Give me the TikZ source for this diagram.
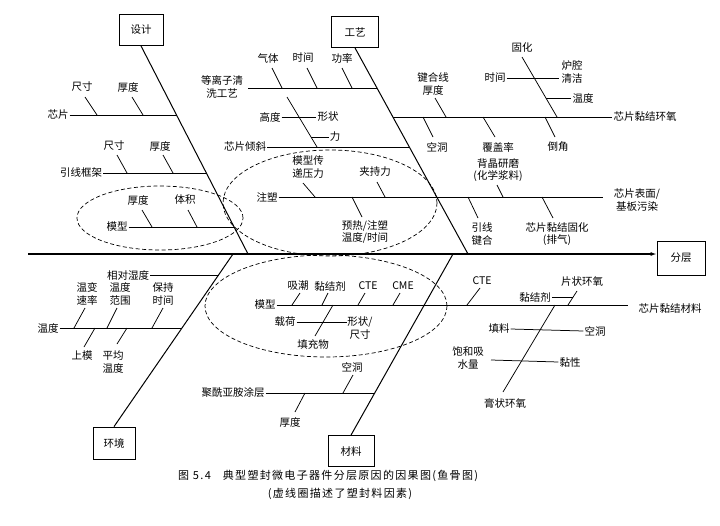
\documentclass[tikz,border=0pt]{standalone}
\usepackage{fontspec}
\newfontfamily\cjk{Noto Sans CJK SC}
\newfontfamily\capfont[LetterSpace=12]{Noto Sans CJK SC}
\usetikzlibrary{arrows.meta}
\begin{document}
\begin{tikzpicture}[x=1pt,y=-1pt,
  lbl/.style={font=\cjk\fontsize{10.5}{12.5}\selectfont, inner sep=1pt, align=center},
  bx/.style={draw, line width=0.8pt, minimum width=44pt, minimum height=31pt, font=\cjk\fontsize{10.5}{12}\selectfont, fill=white},
  bone/.style={line width=1pt},
  ln/.style={line width=0.75pt},
  circ/.style={line width=0.7pt, dash pattern=on 4pt off 2.5pt},
  capt/.style={font=\capfont\fontsize{11}{14}\selectfont, inner sep=0pt}]
\useasboundingbox (0,0) rectangle (720,525);
\fill[white] (0,0) rectangle (720,525);

% spine and head
\coordinate (spL) at (28,254);
\node[bx, minimum width=48pt, minimum height=34pt] (fc) at (681,258) {分层};
\draw[line width=1.2pt, -{Latex[length=6pt,width=4pt]}] (spL) -- (spL -| fc.west);

% main category boxes and bones
\node[bx] (sj) at (141,30) {设计};
\node[bx, minimum width=47pt] (gy) at (355,32) {工艺};
\node[bx, minimum width=42pt, minimum height=32pt] (hj) at (114,443) {环境};
\node[bx, minimum width=46pt] (cl) at (351,451) {材料};
\coordinate (sjB) at (248,254);
\coordinate (gyB) at (468,254);
\coordinate (hjB) at (233,254);
\coordinate (clB) at (453,254);
\draw[bone] (sj.south) -- (sjB);
\draw[bone] (gy.south) -- (gyB);
\draw[bone] (hj.north) -- (hjB);
\draw[bone] (cl.north) -- (clB);

% ---------- design ----------
\node[lbl] (d1) at (58,115) {芯片};
\draw[ln] (d1.east) -- (177,115);
\node[lbl] (d1a) at (82,87) {尺寸};
\draw[ln] (85,97) -- (97,115);
\node[lbl] (d1b) at (128,87) {厚度};
\draw[ln] (132,97) -- (143,115);
\node[lbl] (d2) at (81,173) {引线框架};
\draw[ln] (d2.east) -- (206,173);
\node[lbl] (d2a) at (114,146) {尺寸};
\draw[ln] (117,155) -- (127,173);
\node[lbl] (d2b) at (160,146) {厚度};
\draw[ln] (163,155) -- (173,173);
\node[lbl] (d3) at (117,227) {模型};
\draw[ln] (d3.east) -- (234,227);
\node[lbl] (d3a) at (138,200) {厚度};
\draw[ln] (142,210) -- (152,227);
\node[lbl] (d3b) at (185,200) {体积};
\draw[ln] (188,210) -- (197,227);
\draw[circ] (160,218) ellipse [x radius=83pt, y radius=32pt];

% ---------- process ----------
\node[lbl] (p1) at (222,87) {等离子清\\洗工艺};
\draw[ln] (248,88) -- (377,88);
\node[lbl] (p1a) at (268,58) {气体};
\draw[ln] (272,68) -- (282,88);
\node[lbl] (p1b) at (303,58) {时间};
\draw[ln] (307,68) -- (317,88);
\node[lbl] (p1c) at (342,58) {功率};
\draw[ln] (342,68) -- (352,88);
\draw[ln] (287,97) -- (317,147);
\node[lbl] (p2a) at (270,117) {高度};
\node[lbl] (p2b) at (328,117) {形状};
\draw[ln] (p2a.east) -- (p2b.west);
\node[lbl] (p2c) at (335,137) {力};
\draw[ln] (311,137) -- (p2c.west);
\node[lbl] (p2) at (245,147) {芯片倾斜};
\draw[ln] (p2.east) -- (409,147);
\node[lbl] (p3) at (267,197) {注塑};
\draw[ln] (p3.east) -- (603,197);
\node[lbl] (p3a) at (308,167) {模型传\\递压力};
\draw[ln] (303,183) -- (315,197);
\node[lbl] (p3b) at (375,172) {夹持力};
\draw[ln] (377,182) -- (385,197);
\node[lbl] (p3c) at (365,232) {预热/注塑\\温度/时间};
\draw[ln] (352,197) -- (362,217);
\draw[circ] (330,203) ellipse [x radius=107pt, y radius=53pt];

% right of process bone
\node[lbl] (r1) at (645,117) {芯片黏结环氧};
\draw[ln] (393,117) -- (r1.west);
\node[lbl] (r1a) at (433,84) {键合线\\厚度};
\draw[ln] (435,98) -- (446,117);
\node[lbl] (r1b) at (437,147) {空洞};
\draw[ln] (423,117) -- (433,137);
\node[lbl] (r1c) at (498,147) {覆盖率};
\draw[ln] (483,117) -- (495,137);
\node[lbl] (r1d) at (558,147) {倒角};
\draw[ln] (545,117) -- (555,137);
\node[lbl] (r1e) at (522,48) {固化};
\draw[ln] (522,57) -- (557,117);
\node[lbl] (r1f) at (495,78) {时间};
\node[lbl] (r1g) at (572,72) {炉腔\\清洁};
\draw[ln] (r1f.east) -- (559,78);
\node[lbl] (r1h) at (583,98) {温度};
\draw[ln] (546,98) -- (r1h.west);
\node[lbl] (r2) at (637,200) {芯片表面/\\基板污染};
\node[lbl] (r2a) at (498,170) {背晶研磨\\(化学浆料)};
\draw[ln] (497,185) -- (503,197);
\node[lbl] (r2b) at (482,234) {引线\\键合};
\draw[ln] (468,197) -- (478,218);
\node[lbl] (r2c) at (557,234) {芯片黏结固化\\(排气)};
\draw[ln] (542,197) -- (553,218);

% ---------- environment ----------
\node[lbl] (e1) at (128,275) {相对湿度};
\draw[ln] (e1.east) -- (219,275);
\node[lbl] (e2) at (48,328) {温度};
\draw[ln] (e2.east) -- (182,328);
\node[lbl] (e2a) at (87,294) {温变\\速率};
\draw[ln] (85,308) -- (74,328);
\node[lbl] (e2b) at (120,294) {温度\\范围};
\draw[ln] (117,308) -- (107,328);
\node[lbl] (e2c) at (163,294) {保持\\时间};
\draw[ln] (163,308) -- (152,328);
\node[lbl] (e2d) at (82,356) {上模};
\draw[ln] (95,328) -- (84,347);
\node[lbl] (e2e) at (113,362) {平均\\温度};
\draw[ln] (127,328) -- (117,344);

% ---------- material ----------
\node[lbl] (m1) at (265,305) {模型};
\node[lbl] (q0) at (670,309) {芯片黏结材料};
\draw[ln] (m1.east) -- (628,305);
\node[lbl] (m1a) at (298,286) {吸潮};
\draw[ln] (300,293) -- (292,305);
\node[lbl] (m1b) at (330,286) {黏结剂};
\draw[ln] (328,293) -- (322,305);
\node[lbl] (m1c) at (368,286) {CTE};
\draw[ln] (365,293) -- (358,305);
\node[lbl] (m1d) at (403,286) {CME};
\draw[ln] (400,293) -- (393,305);
\draw[ln] (333,305) -- (315,336);
\node[lbl] (m1e) at (313,344) {填充物};
\node[lbl] (m1f) at (285,322) {载荷};
\node[lbl] (m1g) at (360,328) {形状/\\尺寸};
\draw[ln] (m1f.east) -- (347,322);
\draw[circ] (326,306) ellipse [x radius=121pt, y radius=51pt];
\node[lbl] (m2) at (233,393) {聚酰亚胺涂层};
\draw[ln] (m2.east) -- (375,393);
\node[lbl] (m2a) at (352,367) {空洞};
\draw[ln] (353,375) -- (343,393);
\node[lbl] (m2b) at (290,422) {厚度};
\draw[ln] (305,393) -- (295,412);

% right of material bone
\node[lbl] (q1) at (482,281) {CTE};
\draw[ln] (480,288) -- (467,305);
\node[lbl] (q2) at (582,282) {片状环氧};
\draw[ln] (577,291) -- (568,305);
\node[lbl] (q3) at (535,297) {黏结剂};
\draw[ln] (q3.east) -- (573,297);
\draw[ln] (555,305) -- (503,392);
\node[lbl] (q4) at (505,403) {膏状环氧};
\node[lbl] (q5) at (499,329) {填料};
\node[lbl] (q6) at (595,331) {空洞};
\draw[ln] (q5.east) -- (q6.west);
\node[lbl] (q7) at (468,358) {饱和吸\\水量};
\node[lbl] (q8) at (570,362) {黏性};
\draw[ln] (491,360) -- (q8.west);

% ---------- caption ----------
\node[capt, anchor=west] (cap1) at (178,476) {图 5.4\hspace{12pt}典型塑封微电子器件分层原因的因果图(鱼骨图)};
\node[capt] (cap2) at (340,494) {(虚线圈描述了塑封料因素)};
\end{tikzpicture}
\end{document}
